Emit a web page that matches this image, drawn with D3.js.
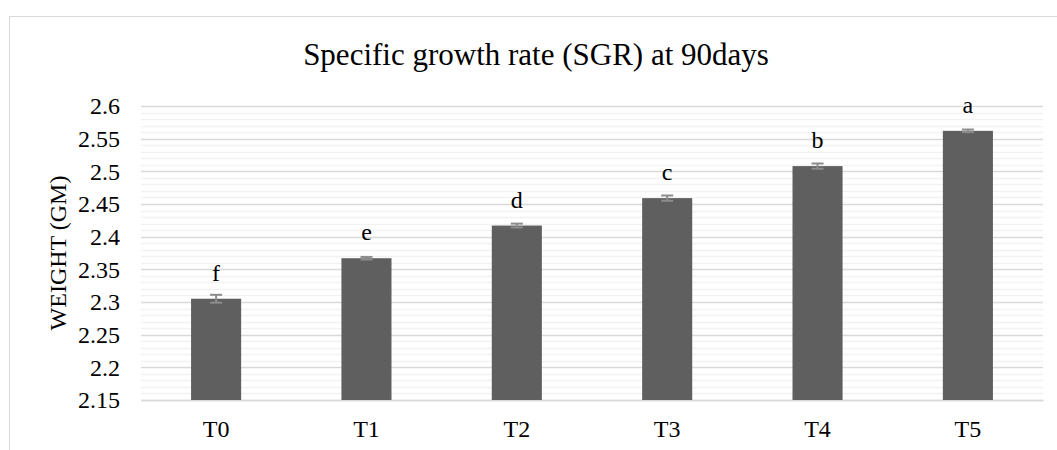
<!DOCTYPE html>
<html>
<head>
<meta charset="utf-8">
<script src="https://cdn.jsdelivr.net/npm/d3@7"></script>
<style>
  html, body { margin: 0; padding: 0; background: #fff; }
  svg { display: block; }
</style>
</head>
<body>
<svg id="chart" width="1057" height="450"></svg>
<script>
// Treatments, mean SGR, standard error and significance letters
const categories = ["T0", "T1", "T2", "T3", "T4", "T5"];
const values = [2.305, 2.367, 2.417, 2.459, 2.508, 2.562];
const errors = [0.006, 0.002, 0.003, 0.004, 0.004, 0.002];
const letters = ["f", "e", "d", "c", "b", "a"];
const yTicks = [2.15, 2.2, 2.25, 2.3, 2.35, 2.4, 2.45, 2.5, 2.55, 2.6];

const FONT = '"Liberation Serif", "Times New Roman", serif';
const svg = d3.select("#chart").attr("font-family", FONT);
const plot = { left: 141, right: 1043, top: 106, bottom: 400 };

// chart frame
svg.append("rect")
  .attr("x", 9.5).attr("y", 16.5)
  .attr("width", 1100).attr("height", 500)
  .attr("fill", "#fff").attr("stroke", "#d9d9d9").attr("stroke-width", 1);

const x = d3.scaleBand()
  .domain(categories)
  .range([plot.left, plot.right])
  .paddingInner(0.667)
  .paddingOuter(0.333);

const y = d3.scaleLinear()
  .domain([2.15, 2.6])
  .range([plot.bottom, plot.top]);

// minor gridlines
const minor = d3.range(0, 46).map(i => 2.15 + i * 0.01).filter(v => Math.round(v * 100) % 5 !== 0);
svg.append("g").selectAll("line").data(minor).join("line")
  .attr("x1", plot.left).attr("x2", plot.right)
  .attr("y1", d => Math.round(y(d)) + 0.5).attr("y2", d => Math.round(y(d)) + 0.5)
  .attr("stroke", "#f2f2f2").attr("stroke-width", 1.3);

// major gridlines
svg.append("g").selectAll("line").data(yTicks).join("line")
  .attr("x1", plot.left).attr("x2", plot.right)
  .attr("y1", d => Math.round(y(d)) + 0.5).attr("y2", d => Math.round(y(d)) + 0.5)
  .attr("stroke", "#d9d9d9").attr("stroke-width", 1.3);

// y axis
const yAxis = svg.append("g")
  .attr("transform", `translate(${plot.left},0)`)
  .call(d3.axisLeft(y).tickValues(yTicks).tickFormat(d3.format("")).tickSize(0).tickPadding(21))
  .attr("font-family", FONT).attr("font-size", 24);
yAxis.select(".domain").remove();
yAxis.selectAll("text").attr("fill", "#000");

// x axis
const xAxis = svg.append("g")
  .attr("transform", `translate(0,${plot.bottom})`)
  .call(d3.axisBottom(x).tickSize(0).tickPadding(20))
  .attr("font-family", FONT).attr("font-size", 24);
xAxis.select(".domain").attr("stroke", "#d9d9d9").attr("stroke-width", 1.5);
xAxis.selectAll("text").attr("fill", "#000");

// bars
svg.append("g").selectAll("rect").data(values).join("rect")
  .attr("x", (d, i) => x(categories[i]))
  .attr("width", x.bandwidth())
  .attr("y", d => y(d))
  .attr("height", d => y(2.15) - y(d))
  .attr("fill", "#5f5f5f");

// error bars
const eg = svg.append("g").attr("stroke", "#8c8c8c").attr("stroke-width", 2);
values.forEach((v, i) => {
  const cx = x(categories[i]) + x.bandwidth() / 2;
  const e = errors[i];
  eg.append("line").attr("x1", cx).attr("x2", cx).attr("y1", y(v + e)).attr("y2", y(v - e));
  eg.append("line").attr("x1", cx - 6).attr("x2", cx + 6).attr("y1", y(v + e)).attr("y2", y(v + e));
  eg.append("line").attr("x1", cx - 6).attr("x2", cx + 6).attr("y1", y(v - e)).attr("y2", y(v - e));
});

// significance letters
svg.append("g").attr("font-size", 24).selectAll("text").data(letters).join("text")
  .attr("x", (d, i) => x(categories[i]) + x.bandwidth() / 2)
  .attr("y", (d, i) => y(values[i]) - 18)
  .attr("text-anchor", "middle")
  .attr("fill", "#000")
  .text(d => d);

// y axis title
svg.append("text")
  .attr("transform", `translate(66,${(plot.top + plot.bottom) / 2}) rotate(-90)`)
  .attr("text-anchor", "middle")
  .attr("font-size", 24)
  .attr("fill", "#000")
  .text("WEIGHT (GM)");

// chart title
svg.append("text")
  .attr("x", 536).attr("y", 65)
  .attr("text-anchor", "middle")
  .attr("font-size", 31)
  .attr("fill", "#000")
  .text("Specific growth rate (SGR) at 90days");
</script>
</body>
</html>
